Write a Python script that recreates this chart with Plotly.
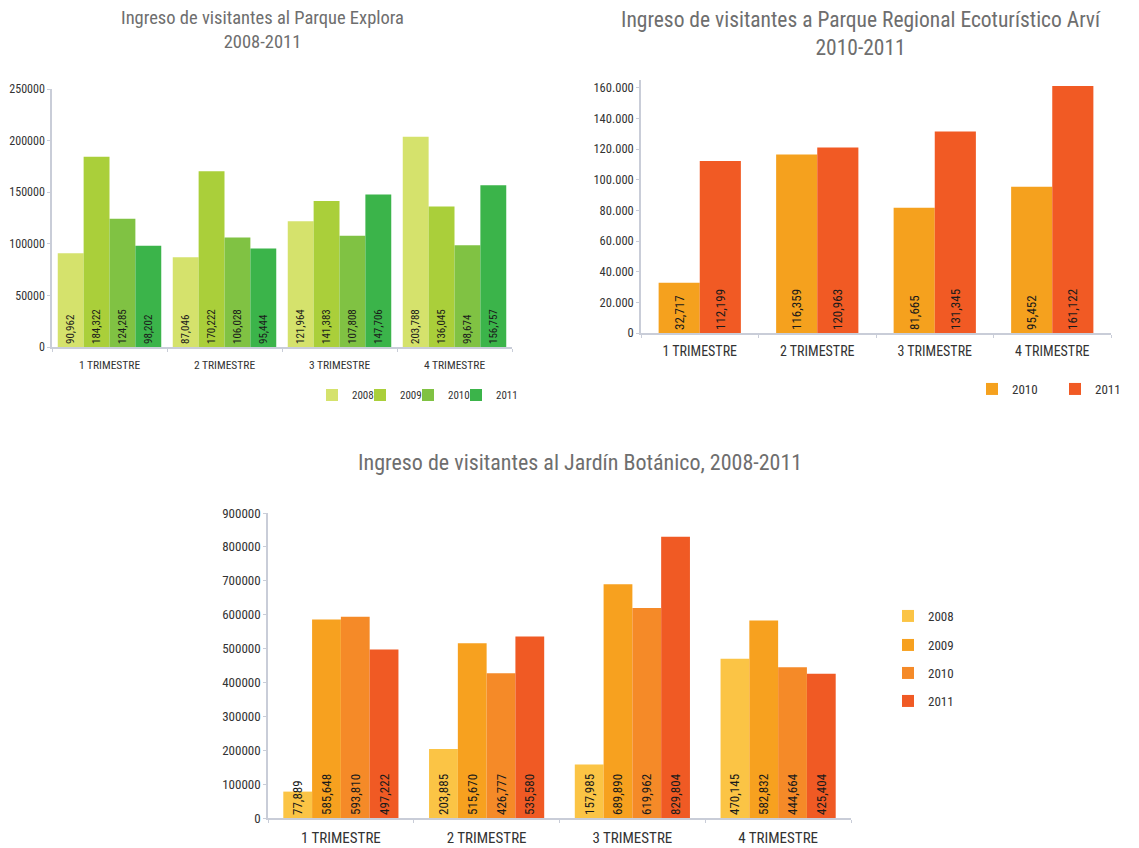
import plotly.graph_objects as go

W, H = 1139, 848
OFF = 8  # page body margin
FW, FH = W - 2 * OFF, H - OFF

quarters = ["1 TRIMESTRE", "2 TRIMESTRE", "3 TRIMESTRE", "4 TRIMESTRE"]

# Chart 1: Parque Explora
explora_years = ["2008", "2009", "2010", "2011"]
explora_2008 = [90962, 87046, 121964, 203788]
explora_2009 = [184322, 170222, 141383, 136045]
explora_2010 = [124285, 106028, 107808, 98674]
explora_2011 = [98202, 95444, 147706, 156757]
explora_colors = ["#d5e26c", "#aacf3a", "#80c243", "#3bb44a"]
explora_ticks = [0, 50000, 100000, 150000, 200000, 250000]

# Chart 2: Parque Arví
arvi_years = ["2010", "2011"]
arvi_2010 = [32717, 116359, 81665, 95452]
arvi_2011 = [112199, 120963, 131345, 161122]
arvi_colors = ["#f5a11e", "#f15a24"]
arvi_tickvals = [0, 20000, 40000, 60000, 80000, 100000, 120000, 140000, 160000]
arvi_ticktext = ["0", "20.000", "40.000", "60.000", "80.000", "100.000", "120.000", "140.000", "160.000"]

# Chart 3: Jardín Botánico
jardin_years = ["2008", "2009", "2010", "2011"]
jardin_2008 = [77889, 203885, 157985, 470145]
jardin_2009 = [585648, 515670, 689890, 582832]
jardin_2010 = [593810, 426777, 619962, 444664]
jardin_2011 = [497222, 535580, 829804, 425404]
jardin_colors = ["#fbc445", "#f7a11f", "#f58a28", "#f05a24"]
jardin_ticks = [0, 100000, 200000, 300000, 400000, 500000, 600000, 700000, 800000, 900000]

FONT = "Liberation Sans Narrow, Roboto Condensed, Arial Narrow, sans-serif"


def px_x(p):
    return (p - OFF) / FW


def px_y(p):
    return 1 - (p - OFF) / FH


fig = go.Figure()
legend_layout = {}
legend_count = [0]


def add_group(series, names, colors, xa, ya, group_width, text_size,
              leg_left, leg_y, leg_size):
    n = len(series)
    w = group_width / n
    for i, (vals, name, col) in enumerate(zip(series, names, colors)):
        legend_count[0] += 1
        lid = "legend" if legend_count[0] == 1 else f"legend{legend_count[0]}"
        fig.add_trace(go.Bar(
            x=quarters, y=vals, name=name,
            marker=dict(color=col, line=dict(width=0)),
            width=w, offset=-group_width / 2 + i * w,
            xaxis=xa, yaxis=ya, legend=lid, showlegend=True,
            text=[f"{v:,}" for v in vals],
            textposition="inside", insidetextanchor="start", textangle=-90,
            constraintext="none",
            textfont=dict(family=FONT, size=text_size, color="#1a1a1a"),
            cliponaxis=False,
        ))
        legend_layout[lid] = dict(
            x=px_x(leg_left[i]), y=px_y(leg_y[i]), xanchor="left", yanchor="middle",
            font=dict(family=FONT, size=leg_size, color="#333333"),
            itemwidth=30, bgcolor="rgba(0,0,0,0)", borderwidth=0,
        )


add_group([explora_2008, explora_2009, explora_2010, explora_2011], explora_years,
          explora_colors, "x", "y", 0.9, 11,
          [312, 360, 408, 456], [395, 395, 395, 395], 11)
add_group([arvi_2010, arvi_2011], arvi_years, arvi_colors, "x2", "y2", 0.7, 13,
          [972, 1055], [389, 389], 13)
add_group([jardin_2008, jardin_2009, jardin_2010, jardin_2011], jardin_years,
          jardin_colors, "x3", "y3", 0.79, 13,
          [888, 888, 888, 888], [616, 645, 673, 701], 13)

axis_line = "#c9cdd8"


def tf(size):
    return dict(family=FONT, size=size, color="#333333")


common_x = dict(type="category", showline=True, linecolor=axis_line, linewidth=1.5,
                ticks="outside", tickson="boundaries", ticklen=3, tickcolor=axis_line,
                showgrid=False, zeroline=False, fixedrange=True, automargin=False)
common_y = dict(showline=True, linecolor=axis_line, linewidth=1.5, ticks="outside",
                ticklen=3, tickcolor=axis_line, showgrid=False, zeroline=False,
                fixedrange=True, automargin=False)

fig.update_layout(
    width=FW, height=FH,
    margin=dict(l=0, r=0, t=0, b=0, autoexpand=False),
    paper_bgcolor="white", plot_bgcolor="white",
    font=dict(family=FONT, color="#333333"),
    barmode="overlay",
    showlegend=True,
    xaxis=dict(common_x, domain=[px_x(52), px_x(512)], anchor="y", tickfont=tf(11.5),
               ticklabelstandoff=6),
    yaxis=dict(common_y, domain=[px_y(347), px_y(89)], range=[0, 250000],
               tickvals=explora_ticks, tickformat="d", anchor="x", tickfont=tf(12)),
    xaxis2=dict(common_x, domain=[px_x(641), px_x(1111)], anchor="y2", tickfont=tf(14),
                ticklabelstandoff=4),
    yaxis2=dict(common_y, domain=[px_y(333), px_y(80)], range=[0, 165000],
                tickvals=arvi_tickvals, ticktext=arvi_ticktext, anchor="x2", tickfont=tf(12.5)),
    xaxis3=dict(common_x, domain=[px_x(268), px_x(851)], anchor="y3", tickfont=tf(15),
                ticklabelstandoff=5),
    yaxis3=dict(common_y, domain=[px_y(818), px_y(513)], range=[0, 900000],
                tickvals=jardin_ticks, tickformat="d", anchor="x3", tickfont=tf(13)),
    annotations=[
        dict(text="Ingreso de visitantes al Parque Explora<br>2008-2011",
             x=px_x(262), y=px_y(30), xref="paper", yref="paper", showarrow=False,
             xanchor="center", yanchor="middle",
             font=dict(family=FONT, size=18.5, color="#6e6e6e")),
        dict(text="Ingreso de visitantes a Parque Regional Ecoturístico Arví<br>2010-2011",
             x=px_x(861), y=px_y(33), xref="paper", yref="paper", showarrow=False,
             xanchor="center", yanchor="middle",
             font=dict(family=FONT, size=21.5, color="#6e6e6e")),
        dict(text="Ingreso de visitantes al Jardín Botánico, 2008-2011",
             x=px_x(580), y=px_y(463), xref="paper", yref="paper", showarrow=False,
             xanchor="center", yanchor="middle",
             font=dict(family=FONT, size=22, color="#6e6e6e")),
    ],
    **legend_layout,
)

fig.write_html("out.html")
